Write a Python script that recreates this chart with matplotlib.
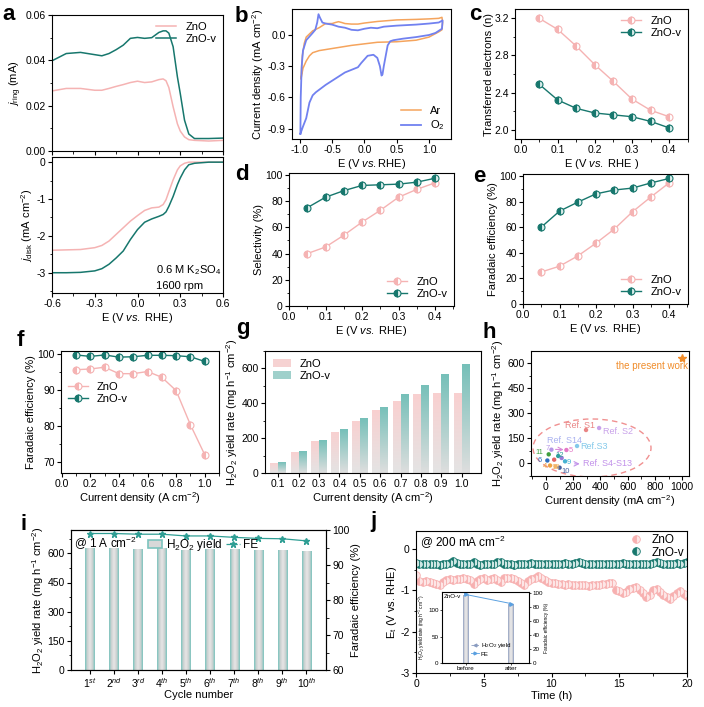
import numpy as np
import matplotlib
matplotlib.use("Agg")
import matplotlib.pyplot as plt
from matplotlib.ticker import AutoMinorLocator, MultipleLocator
from matplotlib.colors import LinearSegmentedColormap
from matplotlib.patches import Ellipse, Patch
from matplotlib.lines import Line2D

plt.rcParams["font.family"] = ["Liberation Sans", "DejaVu Sans"]
plt.rcParams["mathtext.fontset"] = "custom"
plt.rcParams["mathtext.rm"] = "Liberation Sans"
plt.rcParams["mathtext.it"] = "Liberation Sans:italic"
plt.rcParams["mathtext.bf"] = "Liberation Sans:bold"
plt.rcParams["font.size"] = 8
plt.rcParams["axes.linewidth"] = 0.8
plt.rcParams["axes.unicode_minus"] = False

# ---- data ----

# a: RRDE ring / disk currents
a_E = [-0.6, -0.5, -0.4, -0.3, -0.25, -0.2, -0.15, -0.1, -0.05, 0.0, 0.05, 0.1,
       0.15, 0.18, 0.2, 0.22, 0.25, 0.28, 0.3, 0.33, 0.36, 0.4, 0.5, 0.6]
ring_zno = [0.0265, 0.0276, 0.0276, 0.0268, 0.0268, 0.0276, 0.0285, 0.0293, 0.0302, 0.0308,
            0.0302, 0.0305, 0.0315, 0.0318, 0.031, 0.028, 0.0195, 0.012, 0.0088, 0.0062,
            0.005, 0.0047, 0.0044, 0.0047]
ring_v = [0.0398, 0.043, 0.0435, 0.0425, 0.042, 0.043, 0.0447, 0.0467, 0.0497, 0.0501,
          0.0497, 0.050, 0.0523, 0.053, 0.053, 0.052, 0.046, 0.0327, 0.0254, 0.0136,
          0.0075, 0.0055, 0.0055, 0.0057]
disk_zno = [-2.39, -2.38, -2.37, -2.32, -2.26, -2.14, -1.96, -1.78, -1.6, -1.45, -1.31, -1.24,
            -1.22, -1.15, -1.02, -0.8, -0.48, -0.21, -0.1, -0.03, 0.0, 0.0, 0.0, 0.0]
disk_v = [-3.0, -3.0, -2.99, -2.95, -2.89, -2.77, -2.6, -2.41, -2.1, -1.83, -1.63, -1.54,
          -1.47, -1.42, -1.35, -1.2, -0.93, -0.61, -0.43, -0.21, -0.07, -0.03, 0.0, 0.0]

# b: CV in Ar and O2
ar_E = [-0.98, -0.96, -0.93, -0.9, -0.8, -0.7, -0.6, -0.5, -0.45, -0.4, -0.35, -0.3, -0.2,
        -0.1, 0.0, 0.2, 0.5, 0.8, 1.0, 1.15, 1.2, 1.21, 1.2, 1.15, 1.0, 0.8, 0.5, 0.2, 0.0,
        -0.2, -0.4, -0.6, -0.7, -0.8, -0.85, -0.9, -0.95, -0.98]
ar_j = [-0.42, -0.2, -0.08, -0.02, 0.04, 0.07, 0.11, 0.11, 0.12, 0.128, 0.12, 0.11, 0.105,
        0.105, 0.115, 0.13, 0.145, 0.15, 0.155, 0.16, 0.17, 0.12, 0.05, 0.03, -0.02, -0.05,
        -0.065, -0.07, -0.085, -0.1, -0.12, -0.14, -0.15, -0.17, -0.2, -0.25, -0.32, -0.42]
o2_E = [-0.99, -0.985, -0.97, -0.95, -0.9, -0.8, -0.76, -0.73, -0.71, -0.69, -0.65, -0.6,
        -0.5, -0.4, -0.3, -0.2, -0.1, 0.0, 0.1, 0.2, 0.3, 0.5, 0.8, 1.0, 1.15, 1.21, 1.2,
        1.1, 1.0, 0.8, 0.6, 0.45, 0.4, 0.36, 0.33, 0.3, 0.28, 0.265, 0.24, 0.2, 0.14, 0.05,
        -0.05, -0.1, -0.2, -0.3, -0.4, -0.6, -0.75, -0.8, -0.85, -0.9, -0.95, -0.99]
o2_j = [-0.95, -0.6, -0.3, -0.15, -0.05, 0.02, 0.05, 0.12, 0.2, 0.17, 0.12, 0.11, 0.10,
        0.08, 0.07, 0.05, 0.045, 0.06, 0.07, 0.065, 0.08, 0.09, 0.10, 0.11, 0.12, 0.14,
        0.06, 0.02, 0.0, -0.02, -0.035, -0.05, -0.06, -0.1, -0.2, -0.3, -0.38, -0.39, -0.3,
        -0.22, -0.19, -0.2, -0.27, -0.31, -0.335, -0.36, -0.4, -0.48, -0.55, -0.58, -0.65,
        -0.8, -0.88, -0.95]

# c, d, e: potential dependence
pot = [0.05, 0.1, 0.15, 0.2, 0.25, 0.3, 0.35, 0.4]
n_zno = [3.2, 3.08, 2.9, 2.7, 2.52, 2.33, 2.21, 2.14]
n_v = [2.49, 2.32, 2.23, 2.18, 2.16, 2.14, 2.09, 2.02]
sel_zno = [40, 45, 54, 64, 73, 83, 89, 94]
sel_v = [75, 83, 88, 92, 92.5, 93, 94.5, 97.5]
fe_zno = [25, 29.5, 37.5, 47.5, 58.5, 72, 83.5, 94.5]
fe_v = [60, 72.5, 79.5, 86, 89, 90.5, 94.5, 98]

# f, g: current density dependence
cur = [0.1, 0.2, 0.3, 0.4, 0.5, 0.6, 0.7, 0.8, 0.9, 1.0]
cur_labels = ["0.1", "0.2", "0.3", "0.4", "0.5", "0.6", "0.7", "0.8", "0.9", "1.0"]
ffe_zno = [95.6, 95.8, 96.3, 94.5, 94.5, 95.1, 93.5, 89.8, 80.3, 72.0]
ffe_v = [99.7, 99.3, 99.7, 99.1, 99.2, 99.6, 99.6, 99.5, 99.2, 97.9]
yield_zno = [58, 120, 183, 238, 299, 362, 413, 453, 459, 459]
yield_v = [62, 124, 189, 250, 314, 381, 453, 505, 568, 623]

# h: comparison with references
ref_x = [294, 390, 228, 150, 40, 20, 90, 10, 140, 30, 70, 100, 60, 115]
ref_y = [198, 210, 102, 78, 80, 52, 42, 15, 10, -15, -20, -28, 20, 30]
ref_c = ["#e98585", "#c9a2ea", "#84c9ea", "#e477c6", "#b596e6", "#3f9f3f", "#2e9f9c",
         "#2f6fc0", "#45b2d2", "#f0a243", "#f2b468", "#45609f", "#e36464", "#9a7ad8"]
ref_labels = ["Ref. S1", "Ref. S2", "Ref. S14", "Ref.S3", "7", "5", "11", "12", "6", "9",
              "4", "13", "10", "Ref. S4-S13"]
ref_lx = [140, 420, 10, 250, -2, 168, -80, 72, -62, 150, -20, 38, 112, 275]
ref_ly = [228, 190, 138, 102, 88, 75, 60, 45, 12, 2, -22, -26, -50, -5]
ref_lc = ["#e98585", "#c9a2ea", "#a9b1f0", "#84c9ea", "#b596e6", "#e477c6", "#3f9f3f",
          "#2e9f9c", "#2f6fc0", "#45b2d2", "#f0a243", "#f2b468", "#45609f", "#c292ea"]
ref_fs = [6.5, 6.5, 6.5, 6.5, 5.5, 5.5, 5.5, 5.5, 5.5, 5.5, 5.5, 5.5, 5.5, 6.5]
work_x = [1000]
work_y = [630]

# i: cycling at 1 A cm-2
cycles = [1, 2, 3, 4, 5, 6, 7, 8, 9, 10]
cycle_labels = ["1$^{st}$", "2$^{nd}$", "3$^{rd}$", "4$^{th}$", "5$^{th}$",
                "6$^{th}$", "7$^{th}$", "8$^{th}$", "9$^{th}$", "10$^{th}$"]
cyc_yield = [626, 626, 622, 626, 618, 622, 620, 616, 616, 614]
cyc_fe = [99.0, 99.0, 98.8, 98.8, 98.3, 98.3, 97.9, 97.6, 97.5, 96.9]

# j: chronopotentiometry at 200 mA cm-2 (one point every 0.25 h)
t_h = [0.0, 0.25, 0.5, 0.75, 1.0, 1.25, 1.5, 1.75, 2.0, 2.25, 2.5, 2.75, 3.0, 3.25, 3.5,
       3.75, 4.0, 4.25, 4.5, 4.75, 5.0, 5.25, 5.5, 5.75, 6.0, 6.25, 6.5, 6.75, 7.0, 7.25,
       7.5, 7.75, 8.0, 8.25, 8.5, 8.75, 9.0, 9.25, 9.5, 9.75, 10.0, 10.25, 10.5, 10.75,
       11.0, 11.25, 11.5, 11.75, 12.0, 12.25, 12.5, 12.75, 13.0, 13.25, 13.5, 13.75, 14.0,
       14.25, 14.5, 14.75, 15.0, 15.25, 15.5, 15.75, 16.0, 16.25, 16.5, 16.75, 17.0, 17.25,
       17.5, 17.75, 18.0, 18.25, 18.5, 18.75, 19.0, 19.25, 19.5, 19.75, 20.0]
Et_v = [-0.33, -0.36, -0.37, -0.36, -0.35, -0.37, -0.36, -0.38, -0.36,
        -0.35, -0.33, -0.28, -0.33, -0.36, -0.37, -0.36, -0.35,
        -0.30, -0.36, -0.39, -0.37, -0.36, -0.35, -0.37, -0.32,
        -0.30, -0.35, -0.37, -0.36, -0.38, -0.36, -0.35, -0.37,
        -0.36, -0.34, -0.36, -0.37, -0.35, -0.36, -0.37, -0.36,
        -0.35, -0.37, -0.36, -0.34, -0.36, -0.37, -0.33, -0.30,
        -0.34, -0.36, -0.37, -0.35, -0.36, -0.37, -0.36, -0.35,
        -0.36, -0.35, -0.37, -0.36, -0.34, -0.36, -0.37, -0.35,
        -0.36, -0.37, -0.35, -0.36, -0.37, -0.33, -0.31, -0.34,
        -0.36, -0.37, -0.36, -0.35, -0.34, -0.36, -0.33, -0.32]
Et_zno = [-0.63, -0.78, -0.80, -0.78, -0.80, -0.82, -0.85, -0.86, -0.80,
          -0.74, -0.72, -0.75, -0.72, -0.73, -0.71, -0.73, -0.75,
          -0.84, -0.78, -0.72, -0.71, -0.74, -0.72, -0.70, -0.75,
          -0.80, -0.70, -0.71, -0.70, -0.73, -0.76, -0.82, -0.86,
          -0.78, -0.72, -0.70, -0.66, -0.70, -0.75, -0.80, -0.83,
          -0.82, -0.84, -0.85, -0.86, -0.85, -0.86, -0.87, -0.86,
          -0.88, -0.87, -0.89, -0.88, -0.87, -0.86, -0.85, -0.84,
          -0.83, -0.82, -0.98, -1.02, -1.06, -1.03, -0.97, -0.94,
          -0.92, -1.00, -1.06, -1.16, -1.12, -1.00, -0.96, -1.03,
          -1.10, -1.16, -1.20, -1.14, -1.06, -1.02, -1.08, -1.14]

# j inset
ins_labels = ["before", "after"]
ins_yield = [128, 111]
ins_fe = [98, 85]

# ---- styling ----
PINK = "#f5b3b3"
TEAL = "#17776d"
EVS = "E (V $\\it{vs.}$ RHE)"
H2O2_LABEL = "H$_2$O$_2$ yield rate (mg h$^{-1}$ cm$^{-2}$)"

W, H = 704, 707
fig = plt.figure(figsize=(7.04, 7.07), dpi=100)


def box(x0, y0, x1, y1):
    return [x0 / W, 1 - y1 / H, (x1 - x0) / W, (y1 - y0) / H]


def style(ax, mx=2, my=2):
    ax.tick_params(direction="out", length=3, width=0.8, labelsize=7.5, pad=1.5)
    ax.tick_params(which="minor", direction="out", length=1.8, width=0.6)
    if mx:
        ax.xaxis.set_minor_locator(AutoMinorLocator(mx))
    if my:
        ax.yaxis.set_minor_locator(AutoMinorLocator(my))


def letter(x, y, s):
    fig.text(x / W, 1 - y / H, s, fontsize=16, fontweight="bold", va="baseline")


def grad_bars(ax, x, h, w, colors, vertical=True, zorder=2):
    bars = ax.bar(x, h, width=w, color="none", edgecolor="none", zorder=zorder)
    cmap = LinearSegmentedColormap.from_list("g", colors)
    if vertical:
        grad = np.linspace(0, 1, 100).reshape(-1, 1)
    else:
        grad = np.linspace(0, 1, 100).reshape(1, -1)
    for b in bars:
        im = ax.imshow(grad, cmap=cmap, aspect="auto", origin="lower", zorder=zorder,
                       extent=[b.get_x(), b.get_x() + b.get_width(), 0, b.get_height()])
        im.set_clip_path(b)
    return bars


mk_zno = dict(color=PINK, marker="o", ms=5, fillstyle="left", mfc=PINK,
              mfcalt="white", mec=PINK, mew=0.8, lw=1)
mk_v = dict(color=TEAL, marker="o", ms=5, fillstyle="left", mfc=TEAL,
            mfcalt="#d9ecea", mec=TEAL, mew=0.8, lw=1)

# ---- a ----
ax = fig.add_axes(box(52, 15, 223, 151))
ax.plot(a_E, ring_zno, color=PINK, lw=1.1, label="ZnO")
ax.plot(a_E, ring_v, color=TEAL, lw=1.1, label="ZnO-v")
ax.set_xlim(-0.6, 0.6)
ax.set_ylim(0, 0.06)
ax.xaxis.set_major_locator(MultipleLocator(0.3))
ax.yaxis.set_major_locator(MultipleLocator(0.02))
ax.yaxis.set_major_formatter(matplotlib.ticker.FormatStrFormatter("%.2f"))
ax.set_xticklabels([])
style(ax)
ax.set_ylabel("$j_{\\rm ring}$ (mA)", labelpad=1)
ax.legend(loc="upper right", frameon=False, handlelength=1.8, fontsize=8,
          borderaxespad=0.2, labelspacing=0.2)

ax = fig.add_axes(box(52, 157, 223, 293))
ax.plot(a_E, disk_zno, color=PINK, lw=1.1)
ax.plot(a_E, disk_v, color=TEAL, lw=1.1)
ax.set_xlim(-0.6, 0.6)
ax.set_ylim(-3.55, 0.14)
ax.xaxis.set_major_locator(MultipleLocator(0.3))
ax.yaxis.set_major_locator(MultipleLocator(1))
ax.xaxis.set_major_formatter(matplotlib.ticker.FormatStrFormatter("%.1f"))
style(ax)
ax.set_ylabel("$j_{\\rm disk}$ (mA cm$^{-2}$)", labelpad=1)
ax.set_xlabel(EVS, labelpad=1)
ax.text(0.61, 0.17, "0.6 M K$_2$SO$_4$", transform=ax.transAxes, fontsize=8, va="center")
ax.text(0.61, 0.05, "1600 rpm", transform=ax.transAxes, fontsize=8, va="center")
letter(2, 20, "a")

# ---- b ----
ax = fig.add_axes(box(292, 9, 451, 139))
ax.plot(ar_E, ar_j, color="#f5a45d", lw=1.1, label="Ar")
ax.plot(o2_E, o2_j, color="#7181f0", lw=1.3, label="O$_2$")
ax.set_xlim(-1.12, 1.34)
ax.set_ylim(-1.0, 0.25)
ax.xaxis.set_major_locator(MultipleLocator(0.5))
ax.yaxis.set_major_locator(MultipleLocator(0.3))
ax.xaxis.set_major_formatter(matplotlib.ticker.FormatStrFormatter("%.1f"))
ax.yaxis.set_major_formatter(matplotlib.ticker.FormatStrFormatter("%.1f"))
style(ax, 0, 0)
ax.set_ylabel("Current density (mA cm$^{-2}$)", labelpad=1)
ax.set_xlabel("E (V $\\it{vs.}$RHE)", labelpad=1)
ax.legend(loc="lower right", frameon=False, handlelength=1.8, fontsize=8,
          borderaxespad=0.2, labelspacing=0.2)
letter(235, 22, "b")

# ---- c ----
ax = fig.add_axes(box(515, 9, 688, 139))
ax.plot(pot, n_zno, label="ZnO", **mk_zno)
ax.plot(pot, n_v, label="ZnO-v", **mk_v)
ax.set_xlim(-0.015, 0.451)
ax.set_ylim(1.9, 3.3)
ax.xaxis.set_major_locator(MultipleLocator(0.1))
ax.yaxis.set_major_locator(MultipleLocator(0.4))
style(ax)
ax.set_ylabel("Transferred electrons (n)", labelpad=0)
ax.set_xlabel("E (V $\\it{vs.}$ RHE )", labelpad=1)
ax.legend(loc="upper right", frameon=False, handlelength=1.8, fontsize=8,
          borderaxespad=0.2, labelspacing=0.2)
letter(469, 20, "c")

# ---- d ----
ax = fig.add_axes(box(289, 173, 454, 306))
ax.plot(pot, sel_zno, label="ZnO", **mk_zno)
ax.plot(pot, sel_v, label="ZnO-v", **mk_v)
ax.set_xlim(0, 0.452)
ax.set_ylim(0, 101.5)
ax.xaxis.set_major_locator(MultipleLocator(0.1))
ax.yaxis.set_major_locator(MultipleLocator(20))
style(ax)
ax.set_ylabel("Selectivity (%)", labelpad=1)
ax.set_xlabel(EVS, labelpad=1)
ax.legend(loc="lower right", frameon=False, handlelength=1.8, fontsize=8,
          borderaxespad=0.2, labelspacing=0.2)
letter(235, 180, "d")

# ---- e ----
ax = fig.add_axes(box(523, 174, 688, 304))
ax.plot(pot, fe_zno, label="ZnO", **mk_zno)
ax.plot(pot, fe_v, label="ZnO-v", **mk_v)
ax.set_xlim(0, 0.452)
ax.set_ylim(0, 101.5)
ax.xaxis.set_major_locator(MultipleLocator(0.1))
ax.yaxis.set_major_locator(MultipleLocator(20))
style(ax)
ax.set_ylabel("Faradaic efficiency (%)", labelpad=1)
ax.set_xlabel(EVS, labelpad=1)
ax.legend(loc="lower right", frameon=False, handlelength=1.8, fontsize=8,
          borderaxespad=0.2, labelspacing=0.2)
letter(473, 182, "e")

# ---- f ----
ax = fig.add_axes(box(61, 351, 219, 473))
ax.plot(cur, ffe_zno, label="ZnO", **mk_zno)
ax.plot(cur, ffe_v, label="ZnO-v", **mk_v)
ax.set_xlim(-0.005, 1.1)
ax.set_ylim(66.9, 100.8)
ax.xaxis.set_major_locator(MultipleLocator(0.2))
ax.yaxis.set_major_locator(MultipleLocator(10))
style(ax)
ax.set_ylabel("Faradaic efficiency (%)", labelpad=1)
ax.set_xlabel("Current density (A cm$^{-2}$)", labelpad=1)
ax.legend(loc="upper left", bbox_to_anchor=(0.0, 0.8), frameon=False, handlelength=1.8,
          fontsize=8, borderaxespad=0.2, labelspacing=0.2)
letter(17, 346, "f")

# ---- g ----
ax = fig.add_axes(box(265, 351, 481, 473))
xi = np.arange(len(cur))
grad_bars(ax, xi - 0.2, yield_zno, 0.38, ["#e4e4e4", "#f9d0d0"])
grad_bars(ax, xi + 0.2, yield_v, 0.38, ["#dedede", "#76c0b9"])
ax.set_xlim(-0.65, 9.95)
ax.set_ylim(0, 700)
ax.set_xticks(xi)
ax.set_xticklabels(cur_labels)
ax.yaxis.set_major_locator(MultipleLocator(200))
style(ax, 0, 2)
ax.set_ylabel(H2O2_LABEL, labelpad=1)
ax.set_xlabel("Current density (A cm$^{-2}$)", labelpad=1)
ax.legend([Patch(fc="#f6d2d2", ec="none"), Patch(fc="#9fd0cb", ec="none")],
          ["ZnO", "ZnO-v"], loc="upper left", frameon=False, handlelength=1.6,
          fontsize=8, borderaxespad=0.3, labelspacing=0.2)
letter(236, 334, "g")

# ---- h ----
ax = fig.add_axes(box(531, 351, 689, 476))
ax.add_patch(Ellipse((338, 90), 866, 348, fill=False, ls=(0, (4, 3)), ec="#f09090", lw=1))
ax.scatter(ref_x, ref_y, s=10, c=ref_c, zorder=3, linewidths=0)
for lx, ly, lab, lc, fs in zip(ref_lx, ref_ly, ref_labels, ref_lc, ref_fs):
    ax.text(lx, ly, lab, color=lc, fontsize=fs, va="center")
ax.annotate("", xy=(268, -5), xytext=(150 + 40, -5),
            arrowprops=dict(arrowstyle="->", color="#c292ea", lw=0.8))
ax.annotate("", xy=(150, 80), xytext=(50, 82),
            arrowprops=dict(arrowstyle="->", color="#d88bd8", lw=0.8))
ax.plot(work_x, work_y, "*", color="#f08c2a", ms=6)
ax.text(1040, 585, "the present work", color="#f08c2a", fontsize=7, ha="right", va="center")
ax.set_xlim(-110, 1050)
ax.set_ylim(-78, 672)
ax.xaxis.set_major_locator(MultipleLocator(200))
ax.yaxis.set_major_locator(MultipleLocator(150))
style(ax)
ax.set_ylabel(H2O2_LABEL, labelpad=1)
ax.set_xlabel("Current density (mA cm$^{-2}$)", labelpad=1)
letter(483, 338, "h")

# ---- i ----
ax = fig.add_axes(box(71, 530, 326, 670))
grad_bars(ax, cycles, cyc_yield, 0.38,
          ["#7cc4be", "#cfd2d2", "#e6e6e6", "#cfd2d2", "#7cc4be"], vertical=False)
ax.set_xlim(0.22, 10.82)
ax.set_ylim(0, 720)
ax.set_xticks(cycles)
ax.set_xticklabels(cycle_labels, fontsize=8)
ax.yaxis.set_major_locator(MultipleLocator(150))
style(ax, 0, 2)
ax.set_ylabel(H2O2_LABEL, labelpad=1)
ax.set_xlabel("Cycle number", labelpad=0)
ax.text(0.01, 0.905, "@ 1 A cm$^{-2}$", transform=ax.transAxes, fontsize=8.5, va="center")
ax2 = ax.twinx()
ax2.plot(cycles, cyc_fe, "-*", color="#2f9e94", ms=5, lw=0.9)
ax2.set_ylim(60, 100)
ax2.yaxis.set_major_locator(MultipleLocator(10))
style(ax2, 0, 2)
ax2.set_ylabel("Faradaic efficiency (%)", labelpad=1)
ax2.legend([Patch(fc="#d8d8d8", ec="#7cc4be", lw=1.2),
            Line2D([0], [0], color="#2f9e94", marker="*", ms=5, lw=0.9, ls="--")],
           ["H$_2$O$_2$ yield", "FE"], loc="center left",
           bbox_to_anchor=((148 - 71) / 255, (670 - 545) / 140), ncol=2, frameon=False,
           handlelength=1.2, columnspacing=0.3, handletextpad=0.3, fontsize=8.5,
           borderaxespad=0, borderpad=0)
letter(20, 530, "i")

# ---- j ----
ax = fig.add_axes(box(416, 531, 687, 673))
ax.plot(t_h, Et_zno, ls="none", marker="o", ms=5.5, fillstyle="left", mfc="#f7b0b0",
        mfcalt="#fde6e6", mec="#f7b0b0", mew=0.6, label="ZnO")
ax.plot(t_h, Et_v, ls="none", marker="o", ms=5.5, fillstyle="left", mfc=TEAL,
        mfcalt="#cfe7e4", mec=TEAL, mew=0.6, label="ZnO-v")
ax.set_xlim(0, 20)
ax.set_ylim(-3, 0.44)
ax.xaxis.set_major_locator(MultipleLocator(5))
ax.yaxis.set_major_locator(MultipleLocator(1))
style(ax)
ax.set_ylabel("E$_{\\rm t}$ (V vs. RHE)", labelpad=1)
ax.set_xlabel("Time (h)", labelpad=1)
ax.text(0.015, 0.92, "@ 200 mA cm$^{-2}$", transform=ax.transAxes, fontsize=8.5, va="center")
ax.legend(loc="upper right", frameon=False, handlelength=1.0, fontsize=8.5,
          borderaxespad=0.05, labelspacing=0.05, borderpad=0.2)
letter(370, 527, "j")

# inset
ins = fig.add_axes(box(442, 592, 529, 663))
grad_bars(ins, [0, 1], ins_yield, 0.13,
          ["#8a9cc0", "#d4d4d8", "#ececec", "#d4d4d8", "#8a9cc0"], vertical=False)
ins.set_xlim(-0.52, 1.4)
ins.set_ylim(0, 134)
ins.set_xticks([0, 1])
ins.set_xticklabels(ins_labels)
ins.set_yticks([0, 50, 100])
ins.tick_params(labelsize=4.5, length=1.5, width=0.5, pad=1)
for s in ins.spines.values():
    s.set_linewidth(0.6)
ins.set_ylabel(H2O2_LABEL, fontsize=3.5, labelpad=1)
ins.text(0.02, 0.97, "ZnO-v", transform=ins.transAxes, fontsize=4.5, va="top")
ins2 = ins.twinx()
ins2.plot([0, 1], ins_fe, color="#5aa0e0", marker=">", ms=2.5, lw=0.7)
ins2.set_ylim(0, 101.5)
ins2.yaxis.set_major_locator(MultipleLocator(20))
ins2.tick_params(labelsize=4.5, length=1.5, width=0.5, pad=1)
ins2.set_ylabel("Faradaic efficiency (%)", fontsize=3.5, labelpad=1)
ins2.legend([Line2D([0], [0], color="#8a9cc0", marker="<", ms=2, lw=0.6, ls="--"),
             Line2D([0], [0], color="#5aa0e0", marker=">", ms=2, lw=0.6)],
            ["H$_2$O$_2$ yield", "FE"], loc="center left", bbox_to_anchor=(0.3, 0.2),
            frameon=False, fontsize=4.5, handlelength=1.2, handletextpad=0.3,
            labelspacing=0.2, borderpad=0)

fig.savefig("out.png", dpi=100)
